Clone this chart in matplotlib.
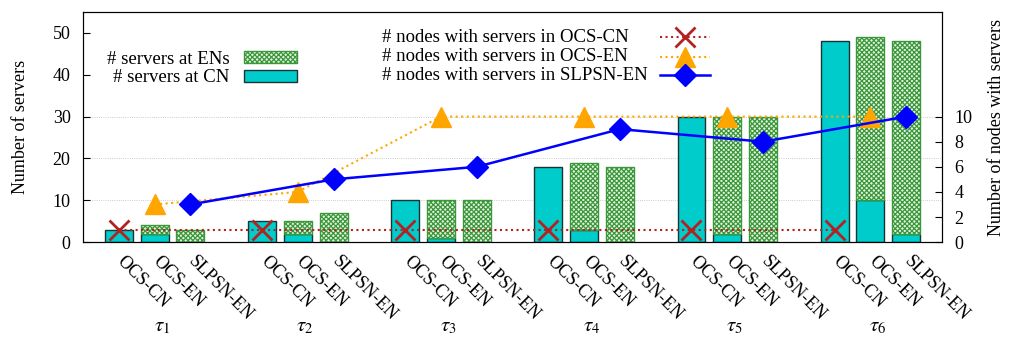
import matplotlib
matplotlib.use('Agg')
import matplotlib.pyplot as plt
import matplotlib.transforms as mtransforms
from matplotlib.patches import Patch
from matplotlib.lines import Line2D
import numpy as np

plt.rcParams['font.family'] = ['Liberation Serif', 'DejaVu Serif']
plt.rcParams['mathtext.fontset'] = 'stix'
plt.rcParams['hatch.linewidth'] = 0.9

groups = [r'$\tau_1$', r'$\tau_2$', r'$\tau_3$', r'$\tau_4$', r'$\tau_5$', r'$\tau_6$']
schemes = ['OCS-CN', 'OCS-EN', 'SLPSN-EN']

# servers at CN / at ENs, per group, per scheme
cn = {'OCS-CN':   [3, 5, 10, 18, 30, 48],
      'OCS-EN':   [2, 2, 1, 3, 2, 10],
      'SLPSN-EN': [0, 0, 0, 0, 0, 2]}
en = {'OCS-CN':   [0, 0, 0, 0, 0, 0],
      'OCS-EN':   [2, 3, 9, 16, 28, 39],
      'SLPSN-EN': [3, 7, 10, 18, 30, 46]}

# nodes with servers (right axis)
nodes_ocs_cn = [1, 1, 1, 1, 1, 1]
nodes_ocs_en = [3, 4, 10, 10, 10, 10]
nodes_slpsn = [3, 5, 6, 9, 8, 10]

line_labels = ['# nodes with servers in OCS-CN', '# nodes with servers in OCS-EN',
               '# nodes with servers in SLPSN-EN']

CYAN = '#00cccc'
GREEN = '#3a973a'
GFACE = '#e4f2e0'
styles = [dict(ls=':', color='#b22222', lw=1.5, marker='x', ms=15, mew=2),
          dict(ls=':', color='#ffa500', lw=1.5, marker='^', ms=14),
          dict(ls='-', color='#0000ff', lw=1.8, marker='D', ms=11)]

fig = plt.figure(figsize=(10.16, 3.42), dpi=100)
ax = fig.add_axes([0.0817, 0.292, 0.8455, 0.673])

ng = len(groups)
base = np.arange(ng) * 4
w = 0.78
for j, s in enumerate(schemes):
    x = base + j
    c = np.array(cn[s])
    e = np.array(en[s])
    ax.bar(x, c, w, color=CYAN, edgecolor='#1a3333', linewidth=1.0, zorder=2)
    m = e > 0
    ax.bar(x[m], e[m], w, bottom=c[m], facecolor=GFACE, edgecolor=GREEN,
           hatch='xxxxxxx', linewidth=1.0, zorder=2)

ax.set_xlim(-1, 4 * ng - 1)
ax.set_ylim(0, 55)
ax.set_yticks([0, 10, 20, 30, 40, 50])
for g in [10, 20, 30]:
    ax.axhline(g, color='#bbbbbb', lw=0.6, ls=':', zorder=0)
ax.tick_params(axis='y', direction='in', length=5, labelsize=13, pad=9)
ax.set_ylabel('Number of servers', fontsize=13, labelpad=17)

xt = np.concatenate([base + j for j in range(3)])
xl = [schemes[j] for j in range(3) for _ in range(ng)]
ax.set_xticks(xt)
ax.set_xticklabels(xl, rotation=-45, ha='left', va='top', rotation_mode='anchor', fontsize=13)
ax.tick_params(axis='x', length=0, pad=8)
shift = mtransforms.ScaledTranslation(0.07, 0, fig.dpi_scale_trans)
for lbl in ax.get_xticklabels():
    lbl.set_transform(lbl.get_transform() + shift)

trans = mtransforms.blended_transform_factory(ax.transData, fig.transFigure)
for i, g in enumerate(groups):
    ax.text(base[i] + 1.2, 0.045, g, transform=trans, ha='center', va='center', fontsize=15)

ax2 = ax.twinx()
ax2.set_ylim(0, 55 / 3)
ax2.set_yticks([0, 2, 4, 6, 8, 10])
ax2.tick_params(axis='y', direction='in', length=5, labelsize=13, pad=9)
ax2.set_ylabel('Number of nodes with servers', fontsize=13, labelpad=11)

for j, vals in enumerate([nodes_ocs_cn, nodes_ocs_en, nodes_slpsn]):
    ax2.plot(base + j, vals, zorder=3, **styles[j])

h1 = [Patch(facecolor=GFACE, edgecolor=GREEN, hatch='xxxxxxx', label='# servers at ENs'),
      Patch(facecolor=CYAN, edgecolor='#1a3333', label='# servers at CN')]
leg1 = ax2.legend(handles=h1, loc='upper left', bbox_to_anchor=(0.019, 0.865), frameon=False,
                  markerfirst=False, fontsize=13.5, handlelength=2.8, handleheight=0.6,
                  labelspacing=0.1, handletextpad=0.8, borderaxespad=0)

# key for the lines: left-aligned text with samples in one column (gnuplot style)
rows_y = [37, 56.5, 75]
for lab, st, yy in zip(line_labels, styles, rows_y):
    yf = 1 - yy / 342
    fig.text(382 / 1016, yf, lab, ha='left', va='center', fontsize=13.5)
    fig.add_artist(Line2D(np.array([660, 685, 710]) / 1016, [yf] * 3,
                          transform=fig.transFigure, markevery=[1], **st))

fig.savefig('out.png', dpi=100)
